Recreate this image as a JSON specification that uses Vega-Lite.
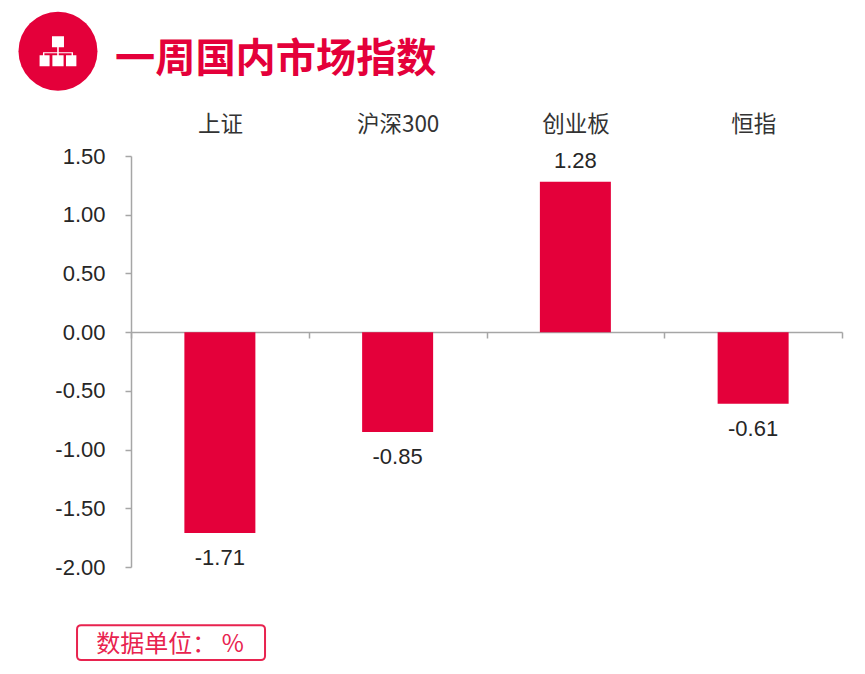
{"$schema":"https://vega.github.io/schema/vega-lite/v6.json","width":711,"height":411,"autosize":{"type":"none"},"padding":{"left":131,"top":156,"right":23,"bottom":107},"background":"white","title":{"text":"一周国内市场指数","font":"Noto Sans CJK SC","fontSize":40.2,"fontWeight":"bold","color":"#e4003a","anchor":"start","frame":"group","dx":-16,"offset":-69},"data":{"values":[{"index":"上证","v":-1.71},{"index":"沪深300","v":-0.85},{"index":"创业板","v":1.28},{"index":"恒指","v":-0.61}]},"config":{"view":{"stroke":null},"locale":{"number":{"decimal":".","thousands":",","grouping":[3],"currency":["$",""],"minus":"-"}}},"resolve":{"scale":{"x":"independent"},"axis":{"x":"independent"}},"layer":[{"mark":{"type":"bar","color":"#e4003a","width":71},"encoding":{"x":{"field":"index","type":"nominal","sort":null,"title":null,"scale":{"domain":["上证","沪深300","创业板","恒指"],"paddingInner":0,"paddingOuter":0},"axis":{"orient":"bottom","offset":-235,"tickBand":"extent","labels":false,"ticks":true,"tickSize":6,"tickColor":"#a6a6a6","domainColor":"#a6a6a6","domainWidth":1.5,"tickWidth":1.5,"grid":false,"title":null}},"y":{"field":"v","type":"quantitative","title":null,"scale":{"domain":[-2,1.5],"nice":false,"zero":false},"axis":{"values":[-2,-1.5,-1,-0.5,0,0.5,1,1.5],"format":".2f","labelFont":"Liberation Sans","labelFontSize":22,"labelColor":"#262626","labelPadding":20,"tickSize":6,"tickColor":"#a6a6a6","domainColor":"#a6a6a6","domainWidth":1.5,"tickWidth":1.5,"grid":false,"title":null}}}},{"transform":[{"filter":"datum.v<0"}],"mark":{"type":"text","font":"Liberation Sans","fontSize":22,"color":"#262626","baseline":"middle","dy":25},"encoding":{"x":{"field":"index","type":"nominal","sort":null,"title":null,"scale":{"domain":["上证","沪深300","创业板","恒指"],"paddingInner":0,"paddingOuter":0},"axis":{"orient":"top","labelFont":"Noto Sans CJK SC","labelFontSize":22.5,"labelColor":"#333333","labelAngle":0,"labelPadding":20,"ticks":false,"domain":false,"grid":false,"title":null}},"y":{"field":"v","type":"quantitative","title":null},"text":{"field":"v","type":"quantitative","format":".2f"}}},{"transform":[{"filter":"datum.v>0"}],"mark":{"type":"text","font":"Liberation Sans","fontSize":22,"color":"#262626","baseline":"middle","dy":-21},"encoding":{"x":{"field":"index","type":"nominal","sort":null,"title":null,"scale":{"domain":["上证","沪深300","创业板","恒指"],"paddingInner":0,"paddingOuter":0},"axis":null},"y":{"field":"v","type":"quantitative","title":null},"text":{"field":"v","type":"quantitative","format":".2f"}}},{"data":{"values":[{"label":"badge"}]},"mark":{"type":"point","shape":"circle","filled":true,"opacity":1,"color":"#e4003a","size":6241},"encoding":{"x":{"datum":-0.1027,"type":"quantitative","scale":{"domain":[0,1],"zero":false,"nice":false},"axis":null},"y":{"datum":2.393,"type":"quantitative","title":null}}},{"data":{"values":[{"label":"icon"}]},"mark":{"type":"point","shape":"M-0.3-0.75H0.3V-0.2H0.04V0.05H0.75V0.2H0.92V0.75H0.4V0.2H0.68V0.1H0.04V0.2H0.28V0.75H-0.28V0.2H-0.04V0.1H-0.68V0.2H-0.42V0.75H-0.92V0.2H-0.75V0.05H-0.04V-0.2H-0.3Z","filled":true,"opacity":1,"color":"white","size":1600},"encoding":{"x":{"datum":-0.1027,"type":"quantitative","scale":{"domain":[0,1],"zero":false,"nice":false},"axis":null},"y":{"datum":2.393,"type":"quantitative","title":null}}},{"data":{"values":[{"label":"unit"}]},"mark":{"type":"rect","fill":"white","stroke":"#e8234f","strokeWidth":2,"cornerRadius":4},"encoding":{"x":{"datum":-0.0759,"type":"quantitative","scale":{"domain":[0,1],"zero":false,"nice":false},"axis":null},"x2":{"datum":0.1885},"y":{"datum":-2.495,"type":"quantitative","title":null},"y2":{"datum":-2.793}}},{"data":{"values":[{"label":"数据单位： %"}]},"mark":{"type":"text","font":"Noto Sans CJK SC","fontSize":24,"color":"#e8234f","align":"center","baseline":"middle"},"encoding":{"x":{"datum":0.055,"type":"quantitative","scale":{"domain":[0,1],"zero":false,"nice":false},"axis":null},"y":{"datum":-2.662,"type":"quantitative","title":null},"text":{"field":"label"}}}]}
